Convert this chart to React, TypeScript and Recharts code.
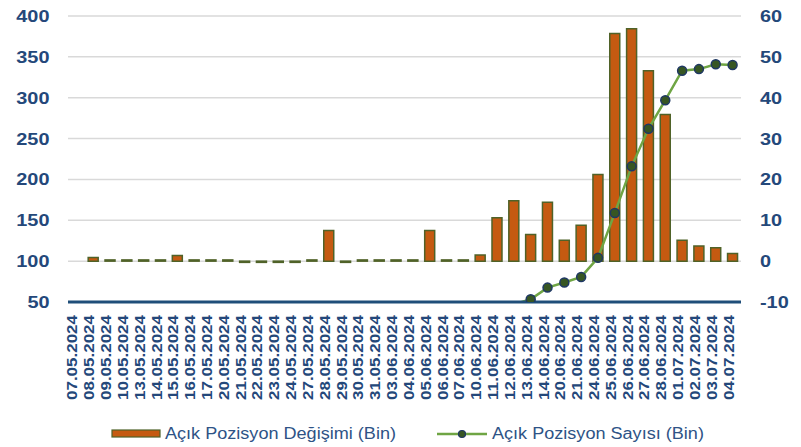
import React from "react";
import {
  ComposedChart,
  Bar,
  Line,
  XAxis,
  YAxis,
  CartesianGrid,
} from "recharts";

const categories: string[] = [
  "07.05.2024", "08.05.2024", "09.05.2024", "10.05.2024", "13.05.2024",
  "14.05.2024", "15.05.2024", "16.05.2024", "17.05.2024", "20.05.2024",
  "21.05.2024", "22.05.2024", "23.05.2024", "24.05.2024", "27.05.2024",
  "28.05.2024", "29.05.2024", "30.05.2024", "31.05.2024", "03.06.2024",
  "04.06.2024", "05.06.2024", "06.06.2024", "07.06.2024", "10.06.2024",
  "11.06.2024", "12.06.2024", "13.06.2024", "14.06.2024", "20.06.2024",
  "21.06.2024", "24.06.2024", "25.06.2024", "26.06.2024", "27.06.2024",
  "28.06.2024", "01.07.2024", "02.07.2024", "03.07.2024", "04.07.2024",
];

// Açık Pozisyon Değişimi (Bin) - right axis
const changeValues: (number | null)[] = [
  null, 0.9, 0.3, 0.3, 0.3, 0.3, 1.4, 0.3, 0.3, 0.3,
  -0.3, -0.3, -0.3, -0.3, 0.3, 7.5, -0.3, 0.3, 0.3, 0.3,
  0.3, 7.5, 0.3, 0.3, 1.5, 10.6, 14.8, 6.5, 14.4, 5.1,
  8.8, 21.2, 55.7, 56.9, 46.6, 35.9, 5.1, 3.7, 3.3, 1.9,
];

// Açık Pozisyon Sayısı (Bin) - left axis
const countValues: (number | null)[] = [
  null, null, null, null, null, null, null, null, null, null,
  null, null, null, null, null, null, null, null, null, null,
  null, null, null, null, null, null, 47, 53.3, 67.6, 73.8,
  80.7, 104, 159, 216, 262, 297, 333, 335, 341, 340,
];

const leftTicks: number[] = [50, 100, 150, 200, 250, 300, 350, 400];
const rightTicks: number[] = [-10, 0, 10, 20, 30, 40, 50, 60];
const LEFT_MIN = 50;

const seriesNames = {
  change: "Açık Pozisyon Değişimi (Bin)",
  count: "Açık Pozisyon Sayısı (Bin)",
};

const data = categories.map((c, i) => ({
  date: c,
  change: changeValues[i],
  count: countValues[i],
}));

const AXIS_COLOR = "#24487A";
const FONT = "'Liberation Sans', Arial, sans-serif";
const BAR_FILL = "#C55A11";
const BAR_STROKE = "#4F6228";
const LINE_COLOR = "#6FA544";
const DOT_FILL = "#375623";
const DOT_STROKE = "#1F3864";

const YTick = (props: any) => {
  const { x, y, payload, anchor } = props;
  return (
    <g transform={`translate(${x},${y})`}>
      <text
        x={0}
        y={0}
        transform="scale(1.17,1)"
        textAnchor={anchor}
        dominantBaseline="central"
        fontSize={17}
        fontWeight={700}
        fill={AXIS_COLOR}
        fontFamily={FONT}
      >
        {payload.value}
      </text>
    </g>
  );
};

const XTick = (props: any) => {
  const { x, y, payload } = props;
  return (
    <text
      x={0}
      y={0}
      transform={`translate(${x + 1},${y}) rotate(-90)`}
      textAnchor="end"
      fontSize={14}
      fontWeight={700}
      fill={AXIS_COLOR}
      fontFamily={FONT}
      textLength={85}
      lengthAdjust="spacingAndGlyphs"
    >
      {payload.value}
    </text>
  );
};

const LineDot = (props: any) => {
  const { cx, cy, payload, index } = props;
  if (payload == null || payload.count == null || payload.count < LEFT_MIN || cx == null || cy == null) {
    return <g key={`d-${index}`} />;
  }
  return (
    <circle
      key={`d-${index}`}
      cx={cx}
      cy={cy}
      r={4.5}
      fill={DOT_FILL}
      stroke={DOT_STROKE}
      strokeWidth={1.5}
    />
  );
};

export default function App() {
  return (
    <div style={{ position: "absolute", left: 0, top: 0, width: 801, height: 447, background: "#fff" }}>
      <ComposedChart
        width={801}
        height={447}
        data={data}
        margin={{ top: 16, right: 0, bottom: 0, left: 0 }}
        barCategoryGap="20%"
      >
        <CartesianGrid
          yAxisId="left"
          vertical={false}
          stroke="#D9D9D9"
          strokeWidth={1.5}
        />
        <XAxis
          dataKey="date"
          interval={0}
          height={145}
          tickLine={false}
          tickSize={0}
          tickMargin={13}
          axisLine={{ stroke: "#1F4E79", strokeWidth: 3 }}
          tick={<XTick />}
        />
        <YAxis
          yAxisId="left"
          orientation="left"
          width={68}
          domain={[LEFT_MIN, 400]}
          ticks={leftTicks}
          allowDataOverflow
          axisLine={false}
          tickLine={false}
          tickSize={0}
          tickMargin={18.5}
          tick={<YTick anchor="end" />}
        />
        <YAxis
          yAxisId="right"
          orientation="right"
          width={60}
          domain={[-10, 60]}
          ticks={rightTicks}
          allowDataOverflow
          axisLine={false}
          tickLine={false}
          tickSize={0}
          tickMargin={19}
          tick={<YTick anchor="start" />}
        />
        <Bar
          yAxisId="right"
          dataKey="change"
          name={seriesNames.change}
          fill={BAR_FILL}
          stroke={BAR_STROKE}
          strokeWidth={1.5}
          isAnimationActive={false}
        />
        <Line
          yAxisId="left"
          dataKey="count"
          name={seriesNames.count}
          type="linear"
          stroke={LINE_COLOR}
          strokeWidth={2.5}
          dot={<LineDot />}
          activeDot={false}
          connectNulls={false}
          isAnimationActive={false}
        />
      </ComposedChart>
      <svg
        width={801}
        height={447}
        style={{ position: "absolute", left: 0, top: 0, pointerEvents: "none" }}
      >
        <rect x={112} y={430} width={48} height={7} fill={BAR_FILL} stroke={BAR_STROKE} strokeWidth={1.2} />
        <text
          transform="translate(165,439) scale(1.13,1)"
          fontSize={16}
          fill="#2E5386"
          fontFamily={FONT}
        >
          {seriesNames.change}
        </text>
        <line x1={437} y1={434} x2={487} y2={434} stroke={LINE_COLOR} strokeWidth={2.5} />
        <circle cx={462} cy={434} r={3.5} fill={DOT_FILL} stroke={DOT_STROKE} strokeWidth={1.2} />
        <text
          transform="translate(492,439) scale(1.13,1)"
          fontSize={16}
          fill="#2E5386"
          fontFamily={FONT}
        >
          {seriesNames.count}
        </text>
      </svg>
    </div>
  );
}
